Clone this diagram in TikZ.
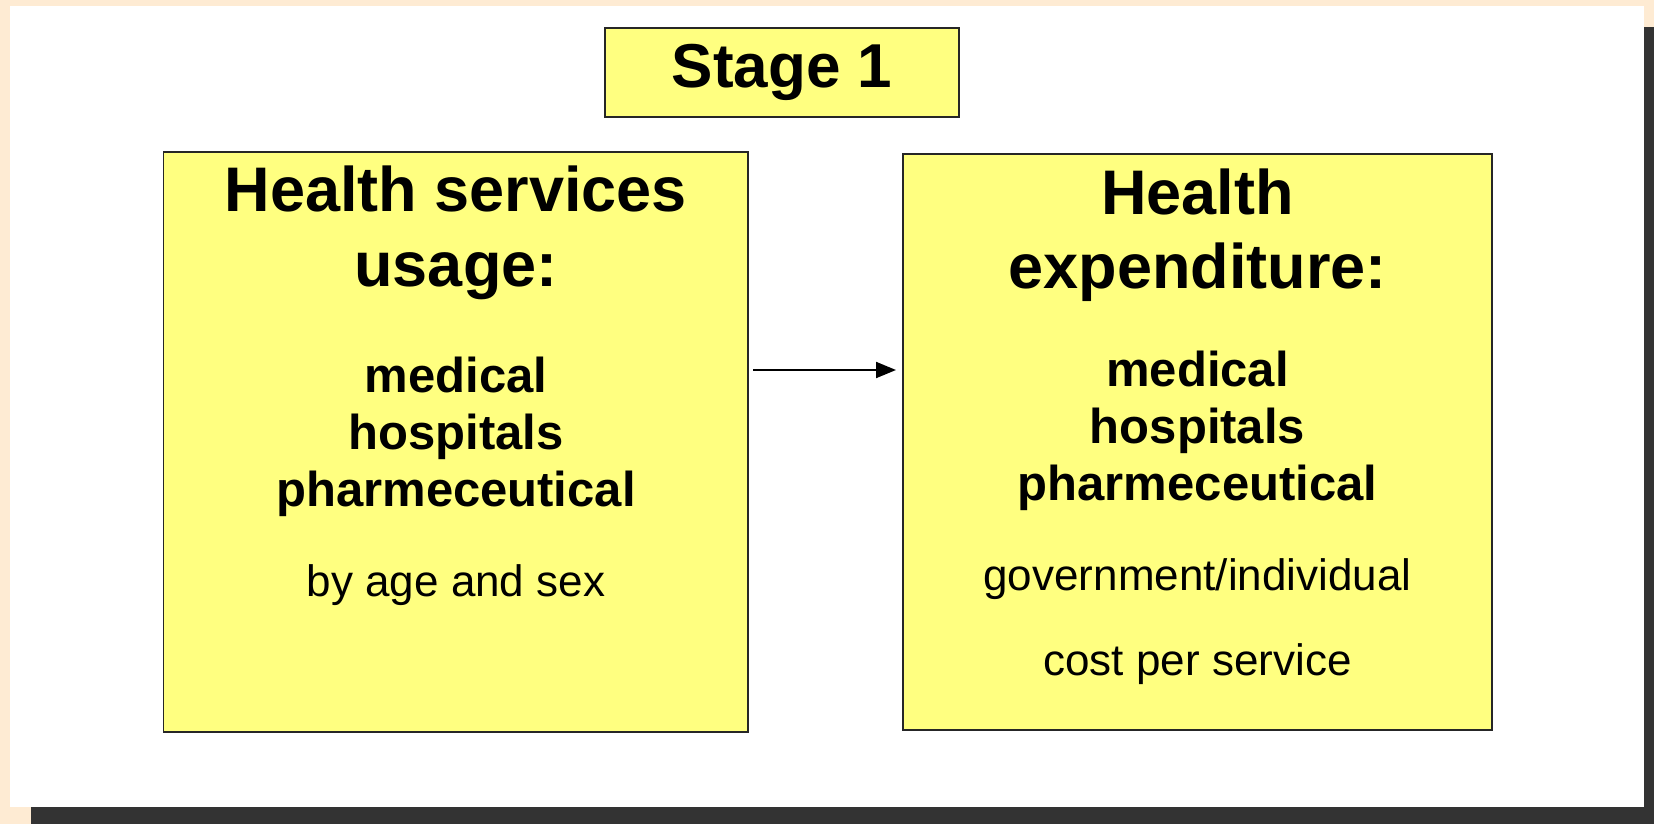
\documentclass[tikz,border=0pt]{standalone}
\usepackage{fontspec}
\setmainfont{Liberation Sans}
\usetikzlibrary{arrows.meta}
\definecolor{peach}{HTML}{FEEBD3}
\definecolor{shadowc}{HTML}{333333}
\definecolor{boxyellow}{HTML}{FFFF80}
\tikzset{
  ybox/.style={draw=black!85, line width=1.6pt, fill=boxyellow},
  big/.style={anchor=base, inner sep=0pt, font=\bfseries\fontsize{63}{63}\selectfont},
  mid/.style={anchor=base, inner sep=0pt, font=\bfseries\fontsize{49}{49}\selectfont},
  small/.style={anchor=base, inner sep=0pt, font=\fontsize{44}{44}\selectfont},
  conn/.style={line width=2pt, -{Triangle[length=20pt,width=16pt]}}
}
\begin{document}
\begin{tikzpicture}[x=1pt,y=-1pt]
\useasboundingbox (0,0) rectangle (1654,824);
\fill[peach] (0,0) rectangle (1654,824);
\fill[shadowc] (31,807) rectangle (1654,824);
\fill[shadowc] (1644,27) rectangle (1654,824);
\fill[white] (10,6) rectangle (1644,807);
% boxes
\draw[ybox] (605,28) rectangle (959,117);
\node[big, font=\bfseries\fontsize{62}{62}\selectfont] (stage) at (782,88) {Stage 1};
\draw[ybox] (163.5,152) rectangle (748,732);
\coordinate (lbox) at (748,370);
\draw[ybox] (903,154) rectangle (1492,730);
\coordinate (rbox) at (903,370);
% left texts
\node[big] (l1) at (456,211.5) {Health services};
\node[big] (l2) at (456,286) {usage:};
\node[mid] (l3) at (456,392) {medical};
\node[mid] (l4) at (456,449) {hospitals};
\node[mid] (l5) at (456,506) {pharmeceutical};
\node[small] (l6) at (456,596) {by age and sex};
% right texts
\node[big] (r1) at (1197.5,214) {Health};
\node[big] (r2) at (1197.5,288) {expenditure:};
\node[mid] (r3) at (1197.5,386) {medical};
\node[mid] (r4) at (1197.5,443) {hospitals};
\node[mid] (r5) at (1197.5,500) {pharmeceutical};
\node[small] (r6) at (1197.5,590) {government/individual};
\node[small] (r7) at (1197.5,675) {cost per service};
% arrow
\coordinate (a1) at (753,370);
\coordinate (a2) at (896,370);
\draw[conn] (a1) -- (a2);
\end{tikzpicture}
\end{document}
